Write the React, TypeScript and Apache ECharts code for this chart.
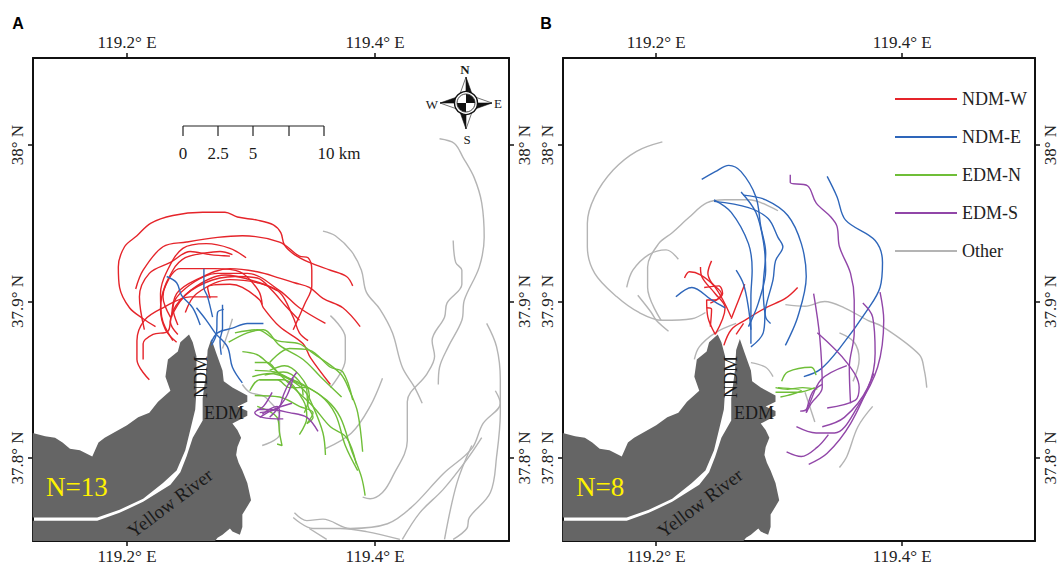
import React, { useEffect, useRef } from "react";
import * as echarts from "echarts";

// All coordinates: x = thousandths of a degree east of 119°, y = thousandths of a degree north of 37°.
const categories = ["NDM-W", "NDM-E", "EDM-N", "EDM-S", "Other"];
const xTicks = [119.2, 119.4];
const yTicks = [37.8, 37.9, 38];

const landNorth = [124,816,134,814,142,813,148,810,154,806,162,805,172,801,177,810,182,813,200,821,209,826,218,829,225,836,235,843,231,852,233,863,241,868,243,874,250,879,253,874,256,865,256,843,255,831,251,818,247,805,240,792,229,784,213,774,194,767,176,762,156,762,138,762,124,762];
const landSouth = [268,876,272,867,277,856,278,849,285,845,297,840,297,836,289,833,297,830,297,827,285,822,289,818,292,813,289,807,288,802,290,797,293,792,297,784,300,773,297,769,293,764,293,756,291,751,285,753,283,755,277,751,273,749,271,747,124,747,124,760,138,760,156,760,176,760,194,765,213,772,235,783,243,791,248,801,253,813,261,824,261,838,264,856,265,869];

const redA = [
  [223,884,213,889,202,896,194,909,193,922,198,935,208,942,219,950,237,955,261,957,279,957,289,954,305,952,318,949,324,944,327,936,335,930,347,925,364,920,377,916,382,910],
  [218,850,208,863,208,875,214,888,229,896,251,903,273,903],
  [213,863,213,873,221,879,233,881,236,891,251,907,279,917,307,912,321,907],
  [207,908,213,920,229,935,248,938,273,941,293,942,323,938,339,929,346,928,349,920,349,910,343,898,334,882],
  [214,882,210,903,218,918,235,925,251,932,267,930,283,929],
  [237,875,228,890,227,905,232,919,245,934,264,937,283,934,296,928],
  [236,890,240,905,256,914,283,921,305,919,323,915,335,912,347,909,358,902,374,896,388,884],
  [241,885,237,896,248,909,273,918,297,918,323,907,339,896,360,886],
  [247,893,256,905,283,914,305,912,323,906,334,890,339,880,346,875],
  [267,902,265,909,283,911,293,909,307,901,310,896,323,884,342,873,348,864,364,847],
  [235,890,229,903,237,920,247,928,263,931,275,932,285,930],
  [240,874,231,882,227,895,231,910,243,921,271,921,291,919,306,907,309,898],
  [241,879,235,887,243,901,263,912,287,916,305,915,317,907,327,898,339,888],
];
const blueA = [
  [232,916,240,912,244,904,253,896,259,885],
  [262,921,262,909,265,903,269,890],
  [256,896,264,888,271,880,281,871,285,858,293,848],
  [277,898,277,893,277,883,275,875,276,866],
  [310,886,297,886,285,883,273,880,268,874],
  [278,895,273,893,272,879,268,872],
];
const greenA = [
  [287,880,305,882,321,875,339,873,350,867,372,854,380,842,386,829,390,804],
  [282,874,297,880,310,882,323,872,342,863,356,852,373,839],
  [315,861,331,870,347,869,364,858,374,855,382,837],
  [293,868,305,866,313,861,334,845,350,833,364,820,377,813,385,796],
  [303,861,313,861,323,854,342,847,361,837,372,826,381,805,389,788,392,776],
  [301,852,315,854,329,851,343,843,350,833,358,816,360,802],
  [299,843,307,850,326,850,342,837,345,826,339,815],
  [303,840,323,839,339,833,350,829,345,822],
  [307,850,321,850,331,845,344,845,346,833,350,826,345,822],
  [305,833,321,826,323,816,325,808,321,809],
  [303,856,319,855,335,849,356,840,368,828,376,808,386,792],
  [315,856,327,859,339,853,347,840,343,829],
  [311,853,326,855,339,849,342,840],
];
const purpleA = [
  [337,855,330,847,326,840,322,832,307,829],
  [334,851,329,840,322,832,315,826],
  [317,842,310,833,303,829,309,826,326,825],
  [305,831,315,831,331,829,345,826,354,817],
  [307,826,318,831,333,835],
  [309,828,321,833,323,829,322,824],
];
const grayA = [
  [452,1004,464,1001,471,992,480,979,486,963,488,941,484,922,472,901,470,888,459,871,452,858,451,847],
  [358,945,368,942,381,932,389,920,393,906,404,895,414,880,422,858,432,845,438,835],
  [463,939,465,925,470,920,470,911,458,899,456,890,446,875,448,865,442,854,426,836,426,811,414,788,406,778,396,774,390,775],
  [490,886,498,871,501,850,501,829,498,801,493,778,476,762,474,755,463,748],
  [497,843,501,835,487,822,478,806,455,790,430,769,410,758,380,755,358,761,345,760,335,765],
  [478,808,466,784,456,748],
  [486,813,474,799,455,780,436,765,422,748],
  [334,762,350,755,372,755,393,753,420,748],
  [347,755,361,748],
  [406,851,396,833,381,816,360,806],
  [364,891,376,877,376,863,364,845],
  [285,889,281,879,277,870],
  [293,847,299,842,309,840,314,837,323,827,323,815,309,808],
];

const redB = [
  [223,915,227,919,236,917,248,909,261,890],
  [245,926,242,918,245,912,253,905,248,901,241,901,242,890,248,879],
  [236,922,237,916,248,905,256,896,248,879],
  [272,911,267,901,261,889],
  [241,896,245,895,244,884],
  [315,909,305,902,289,896,272,888,261,882,255,872],
  [265,879,271,886],
  [239,909,251,910,254,905,244,899],
];
const blueB = [
  [237,978,248,983,259,987,269,983,281,967,285,948,289,931,287,909,289,890,293,886],
  [269,970,281,957,287,939,289,920,283,899,275,884],
  [247,965,261,957,275,937,278,920,277,903,277,873],
  [247,964,275,960,291,953,299,941,303,935,297,926,295,914,289,896,287,880,277,871],
  [271,968,289,965,307,955,318,937,322,916,315,890,305,872],
  [265,920,271,911,275,896,277,882],
  [216,903,229,909,245,901,256,896],
  [339,980,347,967,354,952,378,939,384,925,382,909,372,895,350,871,334,857,320,852],
];
const greenB = [
  [302,849,307,855,326,858,330,853],
  [297,845,307,844,319,845,331,844],
  [299,845,318,843,307,840,301,839],
  [297,842,315,842,329,845],
];
const purpleB = [
  [309,981,309,976,323,974,330,963,342,954,347,948,349,935,358,918,361,901,361,880,357,858,358,835],
  [328,905,333,877,335,845,326,835,322,829],
  [331,880,355,861,365,845,362,837,339,832],
  [317,830,322,831,334,850,355,859],
  [368,899,376,890,378,867,372,845,353,826,335,820],
  [382,906,385,888,380,858,364,833,345,816,330,816,314,820],
  [306,804,318,801,331,807,340,815],
  [324,796,339,803,358,822,377,854],
  [322,829,327,842,335,847],
];
const grayB = [
  [205,1002,184,996,165,984,150,967,144,950,144,935,150,918,168,903,186,893,205,888,229,889,240,893],
  [299,958,275,965,256,965,241,963,227,954,213,944,202,937,193,922,193,909,204,888],
  [176,909,181,920,194,930,208,933,218,927],
  [185,904,196,893,200,888,210,881],
  [265,886,248,880,235,871,231,863],
  [277,861,289,858,295,852],
  [305,898,321,897,337,900,353,896,372,888,384,884,414,866,418,856,420,845],
  [349,880,361,874,365,863,360,849],
  [376,833,364,820,355,801,349,794],
  [321,842,329,823],
];

const colors = ["#e5242a", "#2e66ba", "#6fbe38", "#9146a8", "#b4b4b4"];
const SERIF = "'Liberation Serif', 'Times New Roman', serif";
const toDeg = (flat: number[]) => {
  const out: number[][] = [];
  for (let i = 0; i < flat.length; i += 2) out.push([119 + flat[i] / 1000, 37 + flat[i + 1] / 1000]);
  return out;
};

const PLOT_W = 476;
const PLOT_H = 483;
const X_MIN = 119.1242;
const X_MAX = 119.508;
const Y_MIN = 37.747;
const Y_MAX = 38.0556;

function tracks(sets: number[][][], idx: number) {
  const order = [4, 0, 1, 2, 3];
  const out: any[] = [];
  order.forEach((c) => {
    sets[c].forEach((t) => {
      out.push({
        type: "line",
        name: categories[c],
        xAxisIndex: idx * 2,
        yAxisIndex: idx * 2,
        data: toDeg(t),
        showSymbol: false,
        symbol: "none",
        smooth: 0.35,
        silent: true,
        z: 3 + order.indexOf(c),
        lineStyle: { color: colors[c], width: 1.4 },
        itemStyle: { color: colors[c] },
      });
    });
  });
  return out;
}

function land(idx: number) {
  const polys = [toDeg(landNorth), toDeg(landSouth)];
  return {
    type: "custom",
    xAxisIndex: idx * 2,
    yAxisIndex: idx * 2,
    silent: true,
    z: 2,
    data: [[119.2, 37.8], [119.21, 37.77]],
    renderItem: (p: any, api: any) => ({
      type: "polygon",
      shape: { points: polys[p.dataIndex].map((q) => api.coord(q)) },
      style: { fill: "#656565", stroke: "none" },
    }),
  };
}

function axesFor(left: number) {
  const common = {
    type: "value",
    axisLine: { show: true, onZero: false, lineStyle: { color: "#111", width: 2 } },
    axisTick: { show: true, length: 5, lineStyle: { color: "#111", width: 1.5 } },
    splitLine: { show: false },
  };
  const label = { color: "#222", fontFamily: SERIF, fontSize: 17 };
  const xFmt = (v: number) => `${v.toFixed(1)}° E`;
  const yFmt = (v: number) => (Math.abs(v - 38) < 1e-6 ? "38° N" : `${v.toFixed(1)}° N`);
  const x = (position: string) => ({
    ...common,
    min: X_MIN,
    max: X_MAX,
    position,
    axisTick: { ...common.axisTick, customValues: xTicks },
    axisLabel: { ...label, customValues: xTicks, formatter: xFmt, margin: 7 },
  });
  const y = (position: string) => ({
    ...common,
    min: Y_MIN,
    max: Y_MAX,
    position,
    axisTick: { ...common.axisTick, customValues: yTicks },
    axisLabel: { ...label, customValues: yTicks, formatter: yFmt, rotate: 90, margin: 7 },
  });
  return { x: [x("bottom"), x("top")], y: [y("left"), y("right")], left };
}

function txt(text: string, x: number, y: number, fontSize: number, extra: any = {}, rotation = 0) {
  return {
    type: "text",
    x,
    y,
    rotation,
    z: 50,
    style: {
      text,
      fontFamily: SERIF,
      fontSize,
      fill: "#1a1a1a",
      textAlign: "center",
      textVerticalAlign: "middle",
      ...extra,
    },
  };
}

function mapLabels(dx: number, n: string) {
  return [
    txt("NDM", 201 + dx, 377, 18, {}, Math.PI / 2),
    txt("EDM", 224 + dx, 413, 18),
    txt("Yellow River", 170 + dx, 503, 19, {}, (37 * Math.PI) / 180),
    txt(n, 46 + dx, 487, 27, { fill: "#fff200", textAlign: "left" }),
  ];
}

function scaleBar() {
  const st = { stroke: "#222", lineWidth: 1.2 };
  const ticks = [183, 218, 253, 289, 324];
  return [
    { type: "line", z: 50, shape: { x1: 183, y1: 126, x2: 324, y2: 126 }, style: st },
    ...ticks.map((t) => ({ type: "line", z: 50, shape: { x1: t, y1: 126, x2: t, y2: 136 }, style: st })),
    txt("0", 183, 153, 17),
    txt("2.5", 218, 153, 17),
    txt("5", 253, 153, 17),
    txt("10 km", 339, 153, 17),
  ];
}

function compass() {
  const cx = 466;
  const cy = 103;
  const L = 26;
  const w = 6;
  const r = 9;
  const black = { fill: "#111", stroke: "#111", lineWidth: 0.6 };
  const white = { fill: "#fff", stroke: "#111", lineWidth: 0.6 };
  const arms: any[] = [];
  [0, 1, 2, 3].forEach((k) => {
    const a = (k * Math.PI) / 2;
    const rot = (px: number, py: number) => [cx + px * Math.cos(a) - py * Math.sin(a), cy + px * Math.sin(a) + py * Math.cos(a)];
    arms.push({ type: "polygon", z: 50, shape: { points: [rot(0, -L), rot(w, -r), rot(0, -r)] }, style: black });
    arms.push({ type: "polygon", z: 50, shape: { points: [rot(0, -L), rot(-w, -r), rot(0, -r)] }, style: white });
  });
  return [
    ...arms,
    { type: "circle", z: 51, shape: { cx, cy, r: 11.5 }, style: { fill: "#fff", stroke: "#111", lineWidth: 1.4 } },
    { type: "sector", z: 52, shape: { cx, cy, r: 9, r0: 0, startAngle: -Math.PI / 2, endAngle: 0 }, style: { fill: "#111" } },
    { type: "sector", z: 52, shape: { cx, cy, r: 9, r0: 0, startAngle: Math.PI / 2, endAngle: Math.PI }, style: { fill: "#111" } },
    { type: "circle", z: 53, shape: { cx, cy, r: 9 }, style: { fill: "none", stroke: "#111", lineWidth: 0.8 } },
    txt("N", 465, 69, 13, { fontWeight: "bold" }),
    txt("S", 467, 139, 13),
    txt("W", 432, 104, 13),
    txt("E", 498, 103, 13),
  ];
}

export default function App() {
  const ref = useRef<HTMLDivElement>(null);
  useEffect(() => {
    document.body.style.margin = "0";
    const chart = echarts.init(ref.current!, null, { renderer: "svg" });
    const a = axesFor(33);
    const b = axesFor(563);
    chart.setOption({
      animation: false,
      backgroundColor: "#fff",
      grid: [
        { left: 33, top: 58, width: PLOT_W, height: PLOT_H },
        { left: 563, top: 58, width: PLOT_W, height: PLOT_H },
      ],
      xAxis: [
        ...a.x.map((o) => ({ ...o, gridIndex: 0 })),
        ...b.x.map((o) => ({ ...o, gridIndex: 1 })),
      ],
      yAxis: [
        ...a.y.map((o) => ({ ...o, gridIndex: 0 })),
        ...b.y.map((o) => ({ ...o, gridIndex: 1 })),
      ],
      legend: {
        orient: "vertical",
        left: 894,
        top: 90,
        padding: 0,
        itemWidth: 62,
        itemHeight: 18,
        itemGap: 20,
        selectedMode: false,
        itemStyle: { opacity: 0 },
        data: categories,
        textStyle: { fontFamily: SERIF, fontSize: 18, color: "#222" },
      },
      series: [
        land(0),
        land(1),
        ...tracks([redA, blueA, greenA, purpleA, grayA], 0),
        ...tracks([redB, blueB, greenB, purpleB, grayB], 1),
      ],
      graphic: {
        elements: [
          txt("A", 18, 23, 16, { fontFamily: "'Liberation Sans', Arial, sans-serif", fontWeight: "bold", fill: "#000" }),
          txt("B", 546, 23, 16, { fontFamily: "'Liberation Sans', Arial, sans-serif", fontWeight: "bold", fill: "#000" }),
          ...mapLabels(0, "N=13"),
          ...mapLabels(530, "N=8"),
          ...scaleBar(),
          ...compass(),
        ],
      },
    });
    return () => chart.dispose();
  }, []);
  return <div ref={ref} style={{ position: "absolute", left: 0, top: 0, width: 1059, height: 566 }} />;
}
